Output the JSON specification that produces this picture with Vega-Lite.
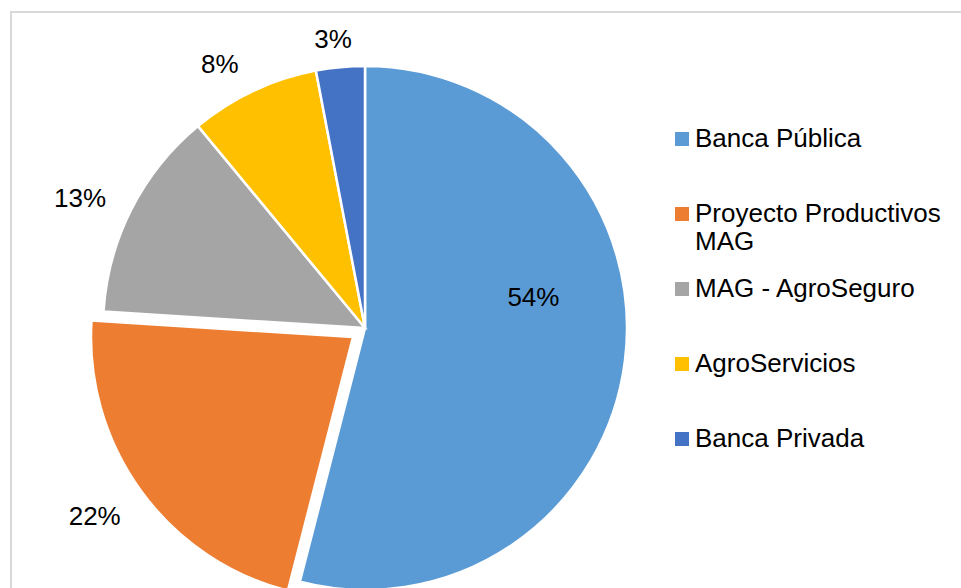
{
  "$schema": "https://vega.github.io/schema/vega-lite/v6.json",
  "width": 960,
  "height": 640,
  "autosize": {"type": "none"},
  "padding": {"left": 11, "top": 12, "right": 0, "bottom": 0},
  "background": "white",
  "view": {"stroke": "#d9d9d9", "strokeWidth": 2, "fill": "white"},
  "config": {
    "view": {"stroke": "#d9d9d9", "strokeWidth": 2},
    "font": "Liberation Sans"
  },
  "data": {
    "values": [
      {"cat": "Banca Pública", "pct": 0.54, "orden": 1},
      {"cat": "Proyecto Productivos MAG", "pct": 0.22, "orden": 2},
      {"cat": "MAG - AgroSeguro", "pct": 0.13, "orden": 3},
      {"cat": "AgroServicios", "pct": 0.08, "orden": 4},
      {"cat": "Banca Privada", "pct": 0.03, "orden": 5}
    ]
  },
  "encoding": {
    "theta": {"field": "pct", "type": "quantitative", "stack": true},
    "order": {"field": "orden", "type": "quantitative"}
  },
  "layer": [
    {
      "mark": {"type": "arc", "x": 354, "y": 316, "radius": 262, "stroke": "white", "strokeWidth": 2.5},
      "encoding": {
        "color": {
          "field": "cat",
          "type": "nominal",
          "sort": null,
          "scale": {
            "domain": ["Banca Pública", "Proyecto Productivos MAG", "MAG - AgroSeguro", "AgroServicios", "Banca Privada"],
            "range": ["#5B9BD5", "#ED7D31", "#A5A5A5", "#FFC000", "#4472C4"]
          },
          "legend": {
            "title": null,
            "orient": "none",
            "legendX": 658,
            "legendY": 114,
            "padding": 0,
            "symbolType": "square",
            "symbolSize": 196,
            "symbolStrokeWidth": 0,
            "labelFontSize": 26,
            "labelFont": "Liberation Sans",
            "labelColor": "#000000",
            "labelOffset": 0,
            "labelLimit": 400,
            "rowPadding": 21,
            "gridAlign": "all",
            "labelExpr": "datum.label == 'Proyecto Productivos MAG' ? ['Proyecto Productivos', 'MAG'] : datum.label"
          }
        },
        "opacity": {"condition": {"test": "datum.cat === 'Proyecto Productivos MAG'", "value": 0}, "value": 1}
      }
    },
    {
      "mark": {"type": "arc", "x": 354, "y": 316, "radius": 262, "stroke": "white", "strokeWidth": 2.5, "xOffset": -12, "yOffset": 9},
      "encoding": {
        "color": {"field": "cat", "type": "nominal", "sort": null},
        "opacity": {"condition": {"test": "datum.cat === 'Proyecto Productivos MAG'", "value": 1}, "value": 0}
      }
    },
    {
      "mark": {"type": "text", "x": 354, "y": 316, "radius": 290, "thetaOffset": -0.016, "fontSize": 26, "font": "Liberation Sans", "color": "#000000"},
      "encoding": {
        "text": {"field": "pct", "type": "quantitative", "format": ".0%"},
        "opacity": {"condition": {"test": "datum.orden == 5", "value": 1}, "value": 0}
      }
    },
    {
      "mark": {"type": "text", "x": 354, "y": 316, "radius": 300, "thetaOffset": -0.065, "fontSize": 26, "font": "Liberation Sans", "color": "#000000"},
      "encoding": {
        "text": {"field": "pct", "type": "quantitative", "format": ".0%"},
        "opacity": {"condition": {"test": "datum.orden == 4", "value": 1}, "value": 0}
      }
    },
    {
      "mark": {"type": "text", "x": 354, "y": 316, "radius": 313, "thetaOffset": -0.045, "fontSize": 26, "font": "Liberation Sans", "color": "#000000"},
      "encoding": {
        "text": {"field": "pct", "type": "quantitative", "format": ".0%"},
        "opacity": {"condition": {"test": "datum.orden == 3", "value": 1}, "value": 0}
      }
    },
    {
      "mark": {"type": "text", "x": 354, "y": 316, "radius": 315, "thetaOffset": 0.019, "fontSize": 26, "font": "Liberation Sans", "color": "#000000", "xOffset": -12, "yOffset": 9},
      "encoding": {
        "text": {"field": "pct", "type": "quantitative", "format": ".0%"},
        "opacity": {"condition": {"test": "datum.orden == 2", "value": 1}, "value": 0}
      }
    },
    {
      "mark": {"type": "text", "x": 354, "y": 316, "radius": 171, "thetaOffset": -0.3, "fontSize": 26, "font": "Liberation Sans", "color": "#000000"},
      "encoding": {
        "text": {"field": "pct", "type": "quantitative", "format": ".0%"},
        "opacity": {"condition": {"test": "datum.orden == 1", "value": 1}, "value": 0}
      }
    }
  ]
}
